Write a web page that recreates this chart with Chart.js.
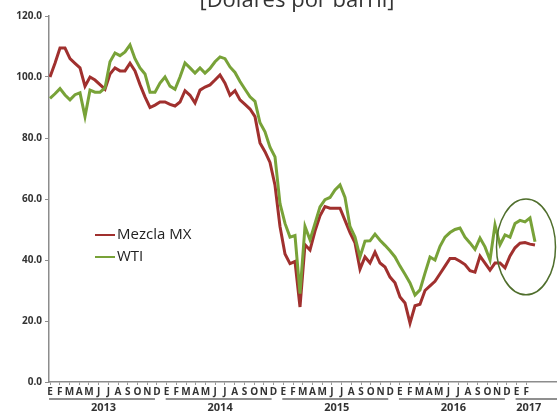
<!DOCTYPE html>
<html>
<head>
<meta charset="utf-8">
<script src="https://cdn.jsdelivr.net/npm/chart.js@4"></script>
<style>
  body { margin: 0; background: #fff; overflow: hidden; }
  #wrap { position: relative; width: 557px; height: 415px; overflow: hidden; }
  #titulo { position: absolute; left: 0; width: 594px; top: -13px; text-align: center;
            font: 400 22px "Open Sans", sans-serif; color: #333; line-height: 22px; }
  .ley { position: absolute; left: 95px; font: 15px "Open Sans", sans-serif; color: #222; line-height: 18px; }
  .ley span { display: inline-block; width: 20px; height: 2px; vertical-align: middle; margin-right: 2px; }
</style>
</head>
<body>
<div id="wrap">
  <canvas id="grafica" width="557" height="415"></canvas>
  <div id="titulo">[Dólares por barril]</div>
  <div class="ley" style="top:224px"><span style="background:#a0302e"></span>Mezcla MX</div>
  <div class="ley" style="top:246px"><span style="background:#78a238"></span>WTI</div>
</div>
<script>
// Precio del petróleo, ene 2013 - feb 2017 (aprox. cada quincena)
const meses = ['E', 'F', 'M', 'A', 'M', 'J', 'J', 'A', 'S', 'O', 'N', 'D'];
const anios = ['2013', '2014', '2015', '2016', '2017'];

const mezcla = [
  100, 104.5, 109.5, 109.5, 106, 104.5, 103, 97, 100, 99,
  97.5, 96, 101, 103, 102, 102, 104.5, 102, 97.5, 93.5,
  90, 90.8, 91.8, 91.8, 91, 90.5, 91.8, 95.5, 94, 91.5,
  95.7, 96.7, 97.4, 99, 100.7, 98, 94, 95.5, 92.5, 91,
  89.5, 87, 78.4, 75.5, 72, 64.5, 51, 42, 38.8, 39.5,
  24.6, 45, 43.3, 49.5, 54.5, 57.5, 57, 57, 57, 53,
  49, 45.6, 37, 41, 39, 42.6, 39, 37.7, 34.4, 32.5,
  27.9, 25.9, 19.3, 25, 25.5, 30, 31.5, 33, 35.5, 38,
  40.5, 40.5, 39.6, 38.5, 36.5, 36, 41.3, 39, 36.7, 39,
  39, 37.4, 41.3, 44, 45.5, 45.7, 45.2, 44.9
];

const wti = [
  93, 94.5, 96.2, 94.1, 92.5, 94.2, 94.8, 87, 95.7, 95,
  95, 96.4, 105, 107.9, 107, 108.2, 110.5, 106, 103, 101,
  95, 95, 98, 100, 97, 96, 100, 104.6, 103, 101.3,
  103, 101.3, 102.8, 105, 106.6, 106, 103.3, 101.5, 98.5, 96,
  93.5, 92, 85, 82, 77, 73.8, 58.5, 52, 47.5, 48,
  29, 51, 46.6, 52, 57.4, 59.8, 60.5, 63, 64.6, 60.5,
  51, 47.5, 41, 46.2, 46.3, 48.5, 46.5, 44.8, 43, 41,
  38, 35.3, 32.5, 28.5, 30.2, 35.7, 41, 40, 44.5, 47.5,
  49, 50, 50.5, 47.5, 45.6, 43.5, 47.2, 44.3, 40, 51.5,
  45, 48.2, 47.5, 52, 53, 52.5, 53.8, 46
];

// etiquetas de mes: enero 2013 a febrero 2017
const etiquetasMes = [];
for (let i = 0; i < 50; i++) etiquetasMes.push(meses[i % 12]);

const posAnio = anios.map((a, k) => (k * 12 + Math.min(k * 12 + 11, 50.5)) / 2);

// ovalo que marca el ultimo tramo
const ovalo = { x: 95.2, y: 44.3, rx: 5.9, ry: 15.7 };

const lineasAnio = {
  id: 'lineasAnio',
  afterDraw(chart) {
    const ctx = chart.ctx;
    const sm = chart.scales.xm;
    const y = chart.scales.xy.top + 1;
    ctx.save();
    ctx.strokeStyle = '#8f8f8f';
    ctx.lineWidth = 2;
    anios.forEach((a, k) => {
      const x0 = sm.getPixelForValue(k * 12 - 0.1);
      const x1 = Math.min(sm.getPixelForValue(k * 12 + 10.8), chart.width);
      ctx.beginPath();
      ctx.moveTo(x0, y);
      ctx.lineTo(x1, y);
      ctx.stroke();
    });
    ctx.restore();
  },
  afterDatasetsDraw(chart) {
    const ctx = chart.ctx;
    const sx = chart.scales.x, sy = chart.scales.y;
    const cx = sx.getPixelForValue(ovalo.x);
    const cy = sy.getPixelForValue(ovalo.y);
    const rx = Math.abs(sx.getPixelForValue(ovalo.x + ovalo.rx) - cx);
    const ry = Math.abs(sy.getPixelForValue(ovalo.y + ovalo.ry) - cy);
    ctx.save();
    ctx.strokeStyle = '#4f6e2c';
    ctx.lineWidth = 1.5;
    ctx.beginPath();
    ctx.ellipse(cx, cy, rx, ry, 0, 0, Math.PI * 2);
    ctx.stroke();
    ctx.restore();
  }
};

const ctx = document.getElementById('grafica').getContext('2d');
new Chart(ctx, {
  type: 'line',
  data: {
    datasets: [
      {
        label: 'Mezcla MX',
        data: mezcla.map((v, i) => ({ x: i, y: v })),
        borderColor: '#a0302e',
        borderWidth: 3,
        order: 1
      },
      {
        label: 'WTI',
        data: wti.map((v, i) => ({ x: i, y: v })),
        borderColor: '#78a238',
        borderWidth: 3,
        order: 0
      }
    ]
  },
  options: {
    responsive: false,
    animation: false,
    layout: { padding: { top: 16, right: 0, bottom: 0, left: 0 } },
    elements: { point: { radius: 0 }, line: { tension: 0 } },
    plugins: {
      legend: { display: false },
      tooltip: { enabled: false },
      title: { display: false }
    },
    scales: {
      x: {
        type: 'linear',
        display: false,
        min: -0.2,
        max: 101.4
      },
      xm: {
        type: 'linear',
        position: 'bottom',
        weight: 0,
        min: -0.103,
        max: 52.16,
        afterBuildTicks: s => { s.ticks = etiquetasMes.map((m, i) => ({ value: i })); },
        afterFit: s => { s.height = 16; },
        ticks: {
          autoSkip: false,
          maxRotation: 0,
          minRotation: 0,
          padding: 1,
          color: '#333',
          font: { family: 'Open Sans', size: 10, weight: 'bold' },
          callback: v => etiquetasMes[v]
        },
        grid: { drawOnChartArea: false, tickLength: 3, color: '#999' },
        border: { color: '#8c8c8c', width: 1.5 }
      },
      xy: {
        type: 'linear',
        position: 'bottom',
        weight: 1,
        min: -0.103,
        max: 52.16,
        afterBuildTicks: s => { s.ticks = posAnio.map(p => ({ value: p })); },
        afterFit: s => { s.height = 17; },
        ticks: {
          autoSkip: false,
          maxRotation: 0,
          minRotation: 0,
          padding: 3,
          color: '#333',
          font: { family: 'Open Sans', size: 11, weight: 'bold' },
          callback: (v, i) => anios[i]
        },
        grid: { display: false, drawTicks: false },
        border: { display: false }
      },
      y: {
        min: 0,
        max: 120,
        afterFit: s => { s.width = 49; },
        ticks: {
          stepSize: 20,
          padding: 3,
          color: '#333',
          font: { family: 'Open Sans', size: 10, weight: 'bold' },
          callback: v => v.toFixed(1)
        },
        grid: { drawOnChartArea: false, tickLength: 4, color: '#8c8c8c' },
        border: { color: '#8c8c8c', width: 1.5 }
      }
    }
  },
  plugins: [lineasAnio]
});
</script>
</body>
</html>
